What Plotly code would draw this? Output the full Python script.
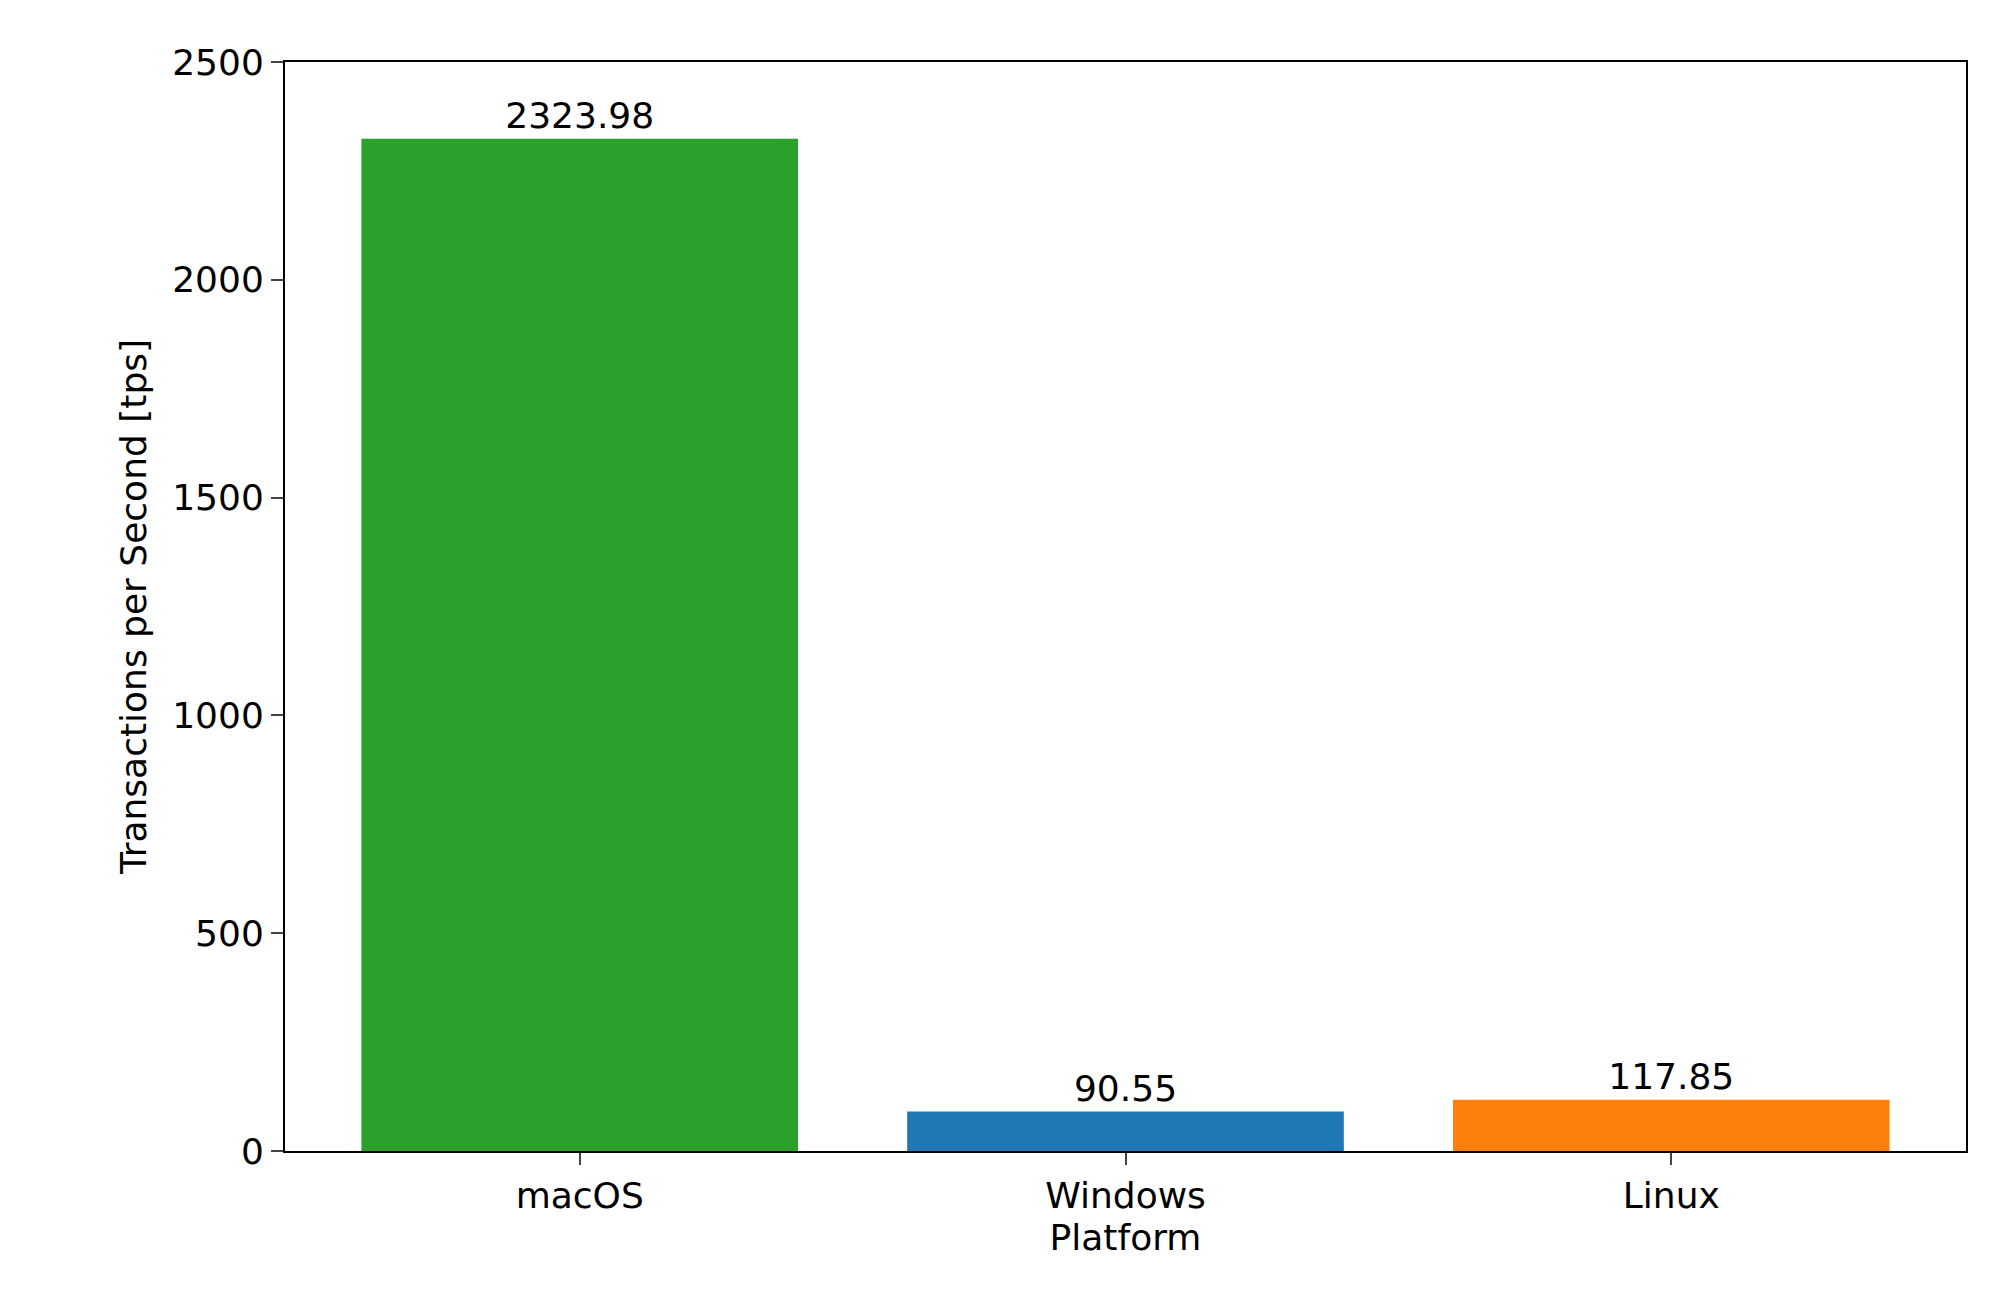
import plotly.graph_objects as go

platforms = ["macOS", "Windows", "Linux"]
tps = [2323.98, 90.55, 117.85]
colors = ["#2ca02c", "#1f77b4", "#ff7f0e"]
labels = [f"{v:.2f}" for v in tps]

fig = go.Figure(go.Bar(
    x=list(range(len(platforms))), y=tps, marker_color=colors, width=0.8,
    text=labels, textposition="outside", cliponaxis=False,
    textfont=dict(size=36, color="black"), marker_line_width=0,
))
font = dict(family="DejaVu Sans", size=36, color="black")
fig.update_layout(
    width=1992, height=1314, plot_bgcolor="white", paper_bgcolor="white",
    margin=dict(l=277, r=34, t=54, b=171), font=font, showlegend=False,
    uniformtext=dict(mode=False),
)
fig.update_xaxes(range=[-0.54, 2.54], tickvals=list(range(len(platforms))), ticktext=platforms,
                 title=dict(text="Platform", font=font, standoff=10), showline=True, mirror=True,
                 linecolor="black", linewidth=2, ticks="outside", ticklen=12, tickwidth=2,
                 showgrid=False, zeroline=False)
fig.update_yaxes(range=[0, 2500], tickvals=[0, 500, 1000, 1500, 2000, 2500],
                 title=dict(text="Transactions per Second [tps]", font=font, standoff=15),
                 showline=True, mirror=True, linecolor="black", linewidth=2, ticks="outside",
                 ticklen=12, tickwidth=2, showgrid=False, zeroline=False)
fig.write_html("out.html")
